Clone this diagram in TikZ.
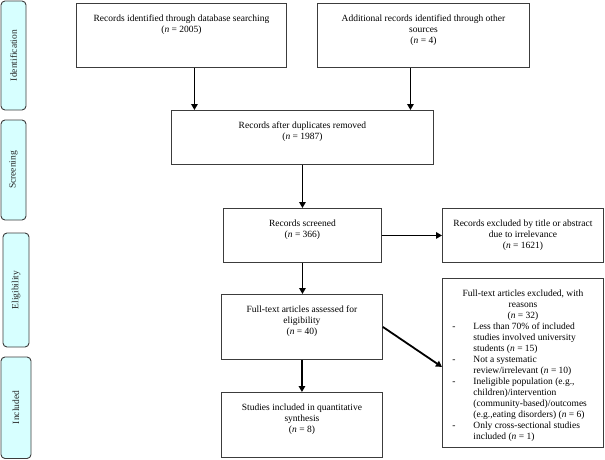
\documentclass[tikz,border=0pt]{standalone}
\usepackage{fontspec}
\setmainfont{Liberation Serif}
\usetikzlibrary{arrows.meta}
\definecolor{sidefill}{RGB}{215,255,255}
\definecolor{edge}{RGB}{60,60,60}
\newcommand\bxt[3]{\parbox[c][#2][t]{#1}{\centering\vspace*{10.3pt}#3\par}}
\newcommand\nn{\textit{n}}
\tikzset{
  box/.style={draw=edge, line width=0.9pt, inner sep=0pt, anchor=north west, font=\fontsize{9.5}{11}\selectfont},
  side/.style={draw=edge, line width=0.9pt, fill=sidefill, rounded corners=4pt},
  sidetxt/.style={rotate=90, font=\fontsize{9.5}{11}\selectfont, text=black!85},
  arr/.style={line width=1.8pt, -{Triangle[length=6pt,width=6.5pt]}}
}
\begin{document}
\begin{tikzpicture}[x=1pt,y=-1pt]
\useasboundingbox (0,0) rectangle (605,460);
% side labels
\draw[side] (1,1) rectangle (26,110);
\node[sidetxt] (sid) at (13.5,55.5) {Identification};
\draw[side] (1,120) rectangle (26,220);
\node[sidetxt] (sscr) at (13.5,170) {Screening};
\draw[side] (3,233) rectangle (29,347);
\node[sidetxt] (selig) at (16,290) {Eligibility};
\draw[side] (1,357) rectangle (31,458.5);
\node[sidetxt] (sincl) at (16,407.5) {Included};
% boxes
\node[box] (b1) at (76,3) {\bxt{210pt}{64pt}{\strut Records identified through database searching\\(\nn{} = 2005)}};
\node[box] (b2) at (317,3) {\bxt{212pt}{64pt}{\strut Additional records identified through other\\sources\\(\nn{} = 4)}};
\node[box] (b3) at (171,110) {\bxt{262pt}{54pt}{\strut Records after duplicates removed\\(\nn{} = 1987)}};
\node[box] (b4) at (223,208) {\bxt{158pt}{54pt}{\strut Records screened\\(\nn{} = 366)}};
\node[box] (b5) at (442,208) {\bxt{161pt}{54pt}{\strut Records excluded by title or abstract\\due to irrelevance\\(\nn{} = 1621)}};
\node[box] (b6) at (221,294) {\bxt{161pt}{65pt}{\strut Full-text articles assessed for\\eligibility\\(\nn{} = 40)}};
\node[box] (b8) at (221,392) {\bxt{161pt}{65pt}{\strut Studies included in quantitative\\synthesis\\(\nn{} = 8)}};
\node[box] (b7) at (442,278) {\parbox[c][169pt][t]{161pt}{\vspace*{10.3pt}%
  {\centering\strut Full-text articles excluded, with\\reasons\\(\nn{} = 32)\par}%
  \raggedright
  \makebox[31pt][l]{\hspace*{10pt}-}Less than 70\% of included\\
  \hspace*{31pt}studies involved university\\
  \hspace*{31pt}students (\nn{} = 15)\\
  \makebox[31pt][l]{\hspace*{10pt}-}Not a systematic\\
  \hspace*{31pt}review/irrelevant (\nn{} = 10)\\
  \makebox[31pt][l]{\hspace*{10pt}-}Ineligible population (e.g.,\\
  \hspace*{31pt}children)/intervention\\
  \hspace*{31pt}(community-based)/outcomes\\
  \hspace*{31pt}(e.g.,eating disorders) (\nn{} = 6)\\
  \makebox[31pt][l]{\hspace*{10pt}-}Only cross-sectional studies\\
  \hspace*{31pt}included (\nn{} = 1)\par}};
% connectors
\draw[arr] ([xshift=13pt]b1.south) -- ([xshift=13pt]b1.south |- b3.north);
\draw[arr] ([xshift=-13pt]b2.south) -- ([xshift=-13pt]b2.south |- b3.north);
\draw[arr] (b3.south) -- (b3.south |- b4.north);
\draw[arr] (b4.east) -- (b4.east -| b5.west);
\draw[arr] (b4.south) -- (b4.south |- b6.north);
\draw[arr] (b6.south) -- (b6.south |- b8.north);
\draw[arr] (b6.east) -- ([yshift=-4pt]b7.west);
\end{tikzpicture}
\end{document}
